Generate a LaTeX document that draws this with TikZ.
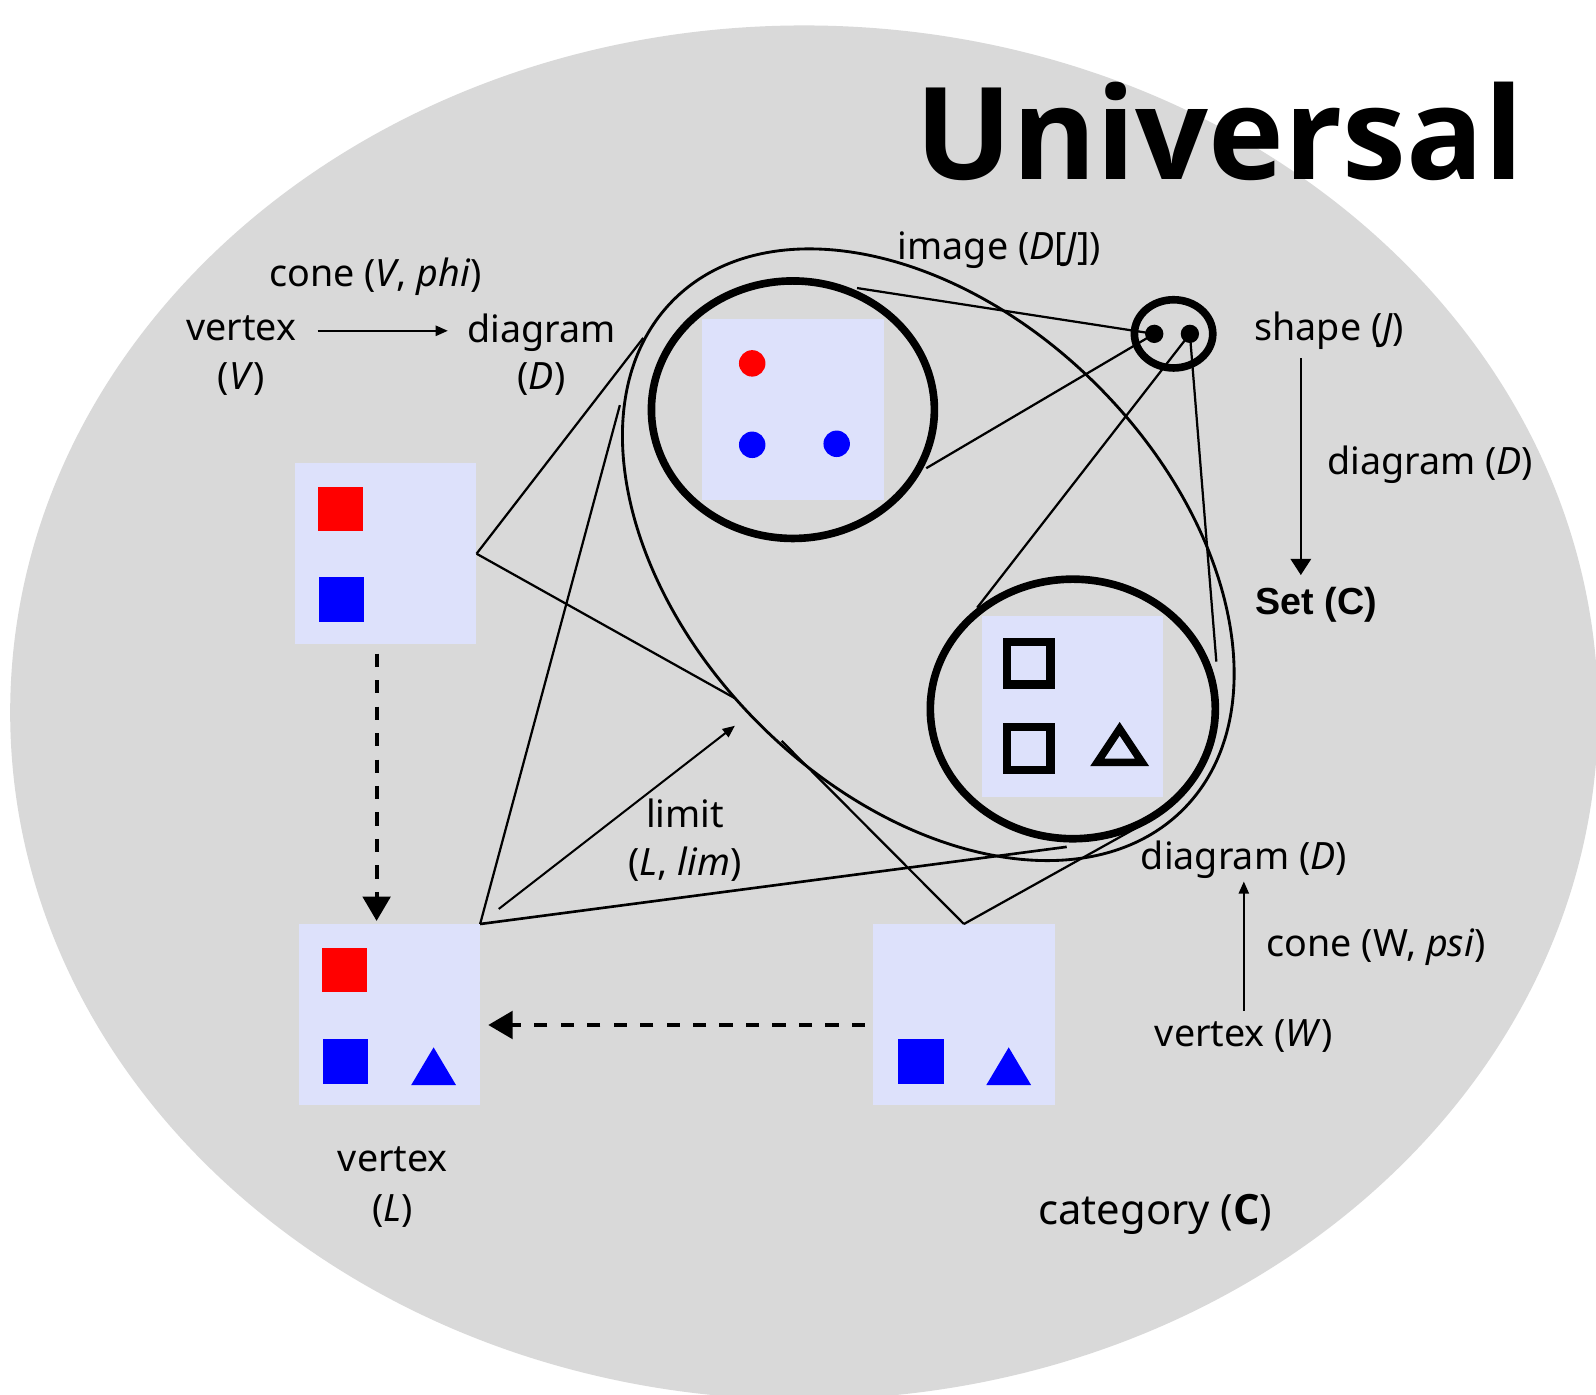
\documentclass[tikz,border=0pt]{standalone}
\usepackage{fontspec}
\setmainfont{Noto Sans}
\newfontfamily\arialfont{Liberation Sans}
\newfontfamily\osans{Open Sans}
\usetikzlibrary{shapes.geometric, arrows.meta, calc}
\definecolor{bgc}{RGB}{217,217,217}
\definecolor{boxc}{RGB}{221,225,251}
\begin{document}
\begin{tikzpicture}[x=1pt,y=-1pt,
  box/.style={rectangle, fill=boxc, minimum width=178pt, minimum height=178pt, inner sep=0pt},
  sq/.style={rectangle, minimum width=45pt, minimum height=44pt, inner sep=0pt},
  osq/.style={rectangle, draw=black, line width=8pt, minimum width=43pt, minimum height=42pt, inner sep=0pt},
  ring/.style={ellipse, draw=black, line width=7.5pt, inner sep=0pt},
  dotn/.style={circle, fill=#1, inner sep=0pt, minimum size=26pt},
  jdot/.style={circle, fill=black, inner sep=0pt, minimum size=18pt},
  lbl/.style={inner sep=0pt, font=\fontsize{37}{44}\selectfont, text height=27pt, text depth=9pt, yshift=-4pt},
  conn/.style={line width=2.2pt},
  arr/.style={line width=2pt, -{Triangle[length=12pt,width=10pt]}},
  dasharr/.style={line width=4pt, dash pattern=on 13pt off 13pt, -{Triangle[length=24pt,width=27pt]}}
]
\useasboundingbox (0,0) rectangle (1568,1370);
\clip (0,0) rectangle (1568,1370);
\fill[white] (0,0) rectangle (1568,1370);
\fill[bgc] (790,700) ellipse [x radius=780, y radius=675];

% title
\node[inner sep=0pt, anchor=base, font=\fontsize{126}{150}\selectfont\osans\bfseries] (title) at (1198,176) {Universal};

% boxes
\node[box] (vbox) at (379,544) {};
\node[box] (lbox) at (382.5,997) {};
\node[box] (wbox) at (947,997) {};
\node[box] (ibox) at (779,402) {};
\node[box] (sbox) at (1054,694) {};

% contents of vertex V
\node[sq, fill=red] (vred) at (334.5,500) {};
\node[sq, fill=blue] (vblue) at (335.5,589) {};
% contents of vertex L
\node[sq, fill=red] (lred) at (338.5,953) {};
\node[sq, fill=blue] (lblue) at (339.5,1043) {};
\fill[blue] (404,1066) -- (426,1029) -- (448,1066) -- cycle;
% contents of vertex W
\node[sq, fill=blue] (wblue) at (904.5,1043) {};
\fill[blue] (969,1066) -- (991,1029) -- (1013,1066) -- cycle;

% image
\node[dotn=red] (d1) at (739,357) {};
\node[dotn=blue] (d2) at (739,437) {};
\node[dotn=blue] (d3) at (822,436) {};
\node[ring, minimum width=278pt, minimum height=253pt] (icirc) at (779,402.5) {};

% shape category image in Set
\node[osq] (o1) at (1010.5,651.5) {};
\node[osq] (o2) at (1010.5,735.5) {};
\draw[line width=7.5pt, miter limit=10] (1078,749) -- (1100,716) -- (1122,749) -- cycle;
\node[ring, minimum width=280pt, minimum height=255pt] (scirc) at (1054,696.5) {};

% shape J
\node[ring, minimum width=77pt, minimum height=67pt] (jcirc) at (1153,328) {};
\node[jdot] (j1) at (1134,328) {};
\node[jdot] (j2) at (1169,328) {};

% diagram loop
\node[ellipse, draw=black, line width=2.8pt, minimum width=708pt, minimum height=470pt, inner sep=0pt, rotate=-45] (loop) at (912,545) {};

% coordinates on the diagram
\coordinate (p1) at (632,332);
\coordinate (p2) at (722,686);
\coordinate (p3) at (609,398);
\coordinate (p4) at (1048,832);
\coordinate (p5) at (768,728);
\coordinate (p6) at (1135,803);
\coordinate (i1) at (842,283);
\coordinate (i2) at (910,460);
\coordinate (s1) at (960,597);
\coordinate (s2) at (1195,650);

\draw[conn] (vbox.east) -- (p1);
\draw[conn] (vbox.east) -- (p2);
\draw[conn] (lbox.north east) -- (p3);
\draw[conn, line width=2.6pt] (lbox.north east) -- (p4);
\draw[conn] (wbox.north) -- (p5);
\draw[conn] (wbox.north) -- (p6);
\draw[conn] (j1.center) -- (i1);
\draw[conn] (j1.center) -- (i2);
\draw[conn] (j2.center) -- (s1);
\draw[conn] (j2.center) -- (s2);

% limit arrow
\coordinate (lim0) at (490,893);
\coordinate (lim1) at (722,713);
\draw[arr] (lim0) -- (lim1);

% dashed arrows
\draw[dasharr] ($(vbox.south)+(-9,9)$) -- ($(lbox.north)+(-12.5,-3)$);
\draw[dasharr] ($(wbox.west)+(-8,10)$) -- ($(lbox.east)+(8,10)$);

% labels
\node[lbl] (coneV) at (369,268) {cone (\textit{V}, \textit{phi})};
\node[lbl] (vV1) at (237,322) {vertex};
\node[lbl] (vV2) at (237,370) {(\textit{V})};
\node[lbl] (dD1) at (532,323) {diagram};
\node[lbl] (dD2) at (532,370) {(\textit{D})};
\coordinate (a1) at (312,325);
\coordinate (a2) at (440,325);
\draw[arr] (a1) -- (a2);

\node[lbl] (imageDJ) at (982,242) {image (\textit{D}[\textit{J}])};
\node[lbl] (shapeJ) at (1306,322) {shape (\textit{J})};
\node[lbl] (diagR) at (1405,453) {diagram (\textit{D})};
\node[inner sep=0pt, font=\fontsize{37}{44}\selectfont\arialfont\bfseries, text height=27pt, text depth=9pt, yshift=-3pt] (setC) at (1293,592) {Set (C)};
\coordinate (b1) at (1278,352);
\coordinate (b2) at (1278,565);
\draw[line width=2.5pt, -{Triangle[length=16pt,width=20pt]}] (b1) -- (b2);

\node[lbl] (diagW) at (1222,841) {diagram (\textit{D})};
\node[lbl] (coneW) at (1352,927) {cone (W, \textit{psi})};
\node[lbl] (vertW) at (1222,1015) {vertex (\textit{W})};
\coordinate (c1) at (1222,993);
\coordinate (c2) at (1222,866);
\draw[arr] (c1) -- (c2);

\node[lbl] (lim1t) at (673,800) {limit};
\node[lbl] (lim2t) at (673,847) {(\textit{L}, \textit{lim})};
\node[lbl] (vL1) at (386,1138) {vertex};
\node[lbl] (vL2) at (386,1187) {(\textit{L})};
\node[inner sep=0pt, font=\fontsize{41}{48}\selectfont, text height=30pt, text depth=10pt, yshift=-3pt] (catC) at (1135,1190) {category ({\osans\bfseries C})};
\end{tikzpicture}
\end{document}
